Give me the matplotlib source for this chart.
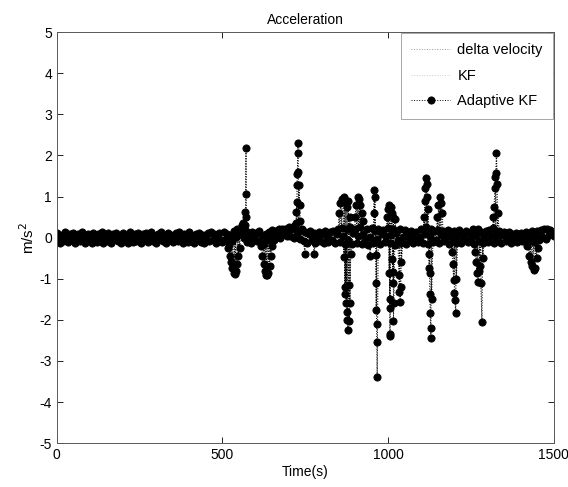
import numpy as np
import matplotlib.pyplot as plt

plt.rcParams['font.family'] = ['Liberation Sans', 'DejaVu Sans']
plt.rcParams['axes.unicode_minus'] = False

# baseline noise, one value every 5 s (0..1500 s)
base_step = 5
base_acc = [
    0.12, -0.03, -0.13, 0.06, -0.08, 0.13, 0.01, -0.11, 0.09, -0.05, 0.11, -0.12, 0.03, 0.08, -0.09, 0.13, -0.02, -0.13, 0.07, 0.10,
    -0.06, -0.12, 0.12, 0.02, -0.10, 0.09, -0.04, 0.13, -0.13, 0.05, -0.07, 0.11, 0.00, -0.12, 0.10, -0.03, 0.12, -0.09, 0.04, -0.13,
    0.11, -0.05, 0.07, -0.12, 0.13, -0.01, -0.10, 0.09, -0.07, 0.12, 0.03, -0.13, 0.08, -0.04, 0.11, -0.11, 0.02, 0.13, -0.08, 0.05,
    -0.12, 0.10, -0.02, 0.13, -0.09, 0.04, -0.13, 0.12, -0.06, 0.07, -0.11, 0.01, 0.11, -0.08, 0.13, -0.04, -0.12, 0.09, 0.02, -0.10,
    0.13, -0.07, 0.05, -0.13, 0.10, -0.03, 0.12, -0.10, 0.06, -0.12, 0.00, 0.11, -0.09, 0.13, -0.05, 0.08, -0.13, 0.03, 0.12, -0.06,
    -0.11, 0.14, -0.04, 0.10, -0.15, 0.06, -0.08, 0.16, 0.02, 0.20, 0.08, 0.22, 0.12, -0.02, 0.15, -0.10, 0.05, -0.14, 0.13, 0.00,
    0.12, -0.08, 0.15, -0.13, 0.04, -0.16, 0.10, -0.05, 0.14, 0.02, 0.18, -0.06, 0.16, 0.06, 0.20, -0.02, 0.17, 0.08, 0.22, 0.03,
    0.19, 0.05, 0.24, 0.00, 0.21, 0.10, 0.16, -0.04, 0.20, -0.09, 0.13, -0.13, 0.08, 0.15, -0.06, 0.11, -0.12, 0.04, 0.14, -0.09,
    0.10, -0.13, 0.16, 0.02, -0.10, 0.14, -0.05, 0.17, -0.14, 0.08, 0.20, -0.10, 0.24, 0.03, -0.15, 0.22, -0.06, 0.27, -0.16, 0.12,
    0.22, -0.12, 0.05, 0.25, -0.15, 0.10, -0.06, 0.20, -0.18, 0.02, 0.23, -0.12, 0.15, -0.04, 0.20, -0.16, 0.08, 0.18, -0.10, 0.03,
    0.24, -0.14, 0.06, 0.20, -0.17, 0.12, -0.05, 0.22, -0.12, 0.02, 0.18, -0.15, 0.09, -0.03, 0.16, -0.12, 0.05, 0.14, -0.10, 0.01,
    0.20, -0.14, 0.08, 0.25, -0.16, 0.03, 0.22, -0.10, 0.15, -0.05, 0.19, -0.13, 0.06, 0.16, -0.09, 0.02, 0.18, -0.15, 0.10, -0.04,
    0.16, -0.12, 0.04, 0.19, -0.14, 0.08, -0.03, 0.17, -0.11, 0.12, 0.00, 0.20, -0.15, 0.07, 0.22, -0.08, 0.14, -0.13, 0.05, 0.17,
    -0.10, 0.18, 0.03, 0.24, -0.12, 0.09, -0.05, 0.16, -0.13, 0.06, 0.14, -0.09, 0.01, 0.13, -0.12, 0.08, -0.04, 0.12, -0.11, 0.05,
    0.12, -0.08, 0.02, 0.14, -0.12, 0.07, -0.03, 0.15, -0.10, 0.05, 0.16, -0.06, 0.18, 0.02, 0.20, -0.04, 0.21, 0.06, 0.19, 0.10,
    0.04,
]

# spikes and dips (time s, acceleration m/s^2)
event_t = [
    518, 522, 526, 530, 534, 537, 540, 544, 548, 552, 558, 562,
    568, 569, 570, 571, 572,
    616, 620, 624, 628, 632, 635, 638, 642, 646, 650,
    680, 700, 715,
    722, 723, 724, 725, 726, 727, 728, 729, 731, 733, 735,
    749, 776,
    852, 856, 860, 864, 868, 872, 876, 880, 884,
    866, 869, 871, 873, 875, 877, 879, 881, 883, 885, 887,
    900, 904, 908, 912, 916, 920, 924,
    945, 956, 958, 960, 962, 963, 964, 965, 966, 967,
    996, 1000, 1004, 1008, 1012, 1016, 1020,
    1003, 1004.5, 1005, 1006, 1007, 1013, 1014, 1015, 1016, 1017,
    1032, 1034, 1036, 1038, 1040,
    1108, 1110, 1112, 1114, 1116, 1118, 1120,
    1122, 1124, 1125, 1126, 1127, 1128, 1129, 1131,
    1148, 1152, 1156, 1160, 1164,
    1192, 1195, 1198, 1200, 1202, 1204, 1206,
    1262, 1265, 1268, 1271, 1274, 1277, 1280, 1283, 1286,
    1318, 1320, 1322, 1324, 1325, 1327, 1329, 1331,
    1420, 1425, 1430, 1435, 1440, 1444, 1448, 1452,
]
event_acc = [
    -0.25, -0.45, -0.60, -0.75, -0.85, -0.88, -0.80, -0.65, -0.45, -0.25, 0.30, 0.35,
    0.30, 0.63, 1.07, 2.17, 0.50,
    -0.20, -0.45, -0.65, -0.80, -0.90, -0.92, -0.85, -0.70, -0.45, -0.20,
    0.22, 0.25, 0.28,
    0.35, 0.63, 0.87, 1.28, 1.56, 2.05, 2.31, 1.60, 1.28, 0.80, 0.40,
    -0.40, -0.40,
    0.60, 0.85, 0.95, 0.90, 1.00, 0.85, 0.75, 0.90, 0.50,
    -0.47, -1.20, -1.36, -1.60, -1.80, -2.00, -2.25, -1.16, -2.02, -1.60, -0.40,
    0.50, 0.80, 1.00, 0.95, 0.80, 0.60, 0.40,
    -0.45, 0.60, 1.16, 0.99, -0.43, -1.11, -1.76, -2.10, -2.54, -3.39,
    0.50, 0.70, 0.79, 0.75, 0.60, 0.50, 0.45,
    -0.85, -1.72, -2.40, -2.35, -1.50, -0.51, -0.83, -1.11, -2.02, -1.60,
    -0.90, -1.32, -1.56, -1.20, -0.60,
    0.50, 0.90, 1.20, 1.44, 1.30, 1.00, 0.70,
    -0.39, -0.75, -0.87, -1.36, -1.84, -2.21, -2.45, -1.50,
    0.50, 0.80, 0.99, 0.85, 0.60,
    -0.35, -0.63, -1.03, -1.35, -1.52, -1.84, -1.00,
    -0.35, -0.60, -0.87, -1.07, -0.80, -0.70, -1.11, -2.04, -0.50,
    0.51, 0.75, 1.20, 1.48, 1.57, 2.05, 1.30, 0.60,
    -0.20, -0.45, -0.60, -0.70, -0.79, -0.75, -0.50, -0.25,
]

x_ticks = [0, 500, 1000, 1500]
y_ticks = [-5, -4, -3, -2, -1, 0, 1, 2, 3, 4, 5]

base_t = np.arange(len(base_acc)) * base_step
t = np.concatenate([base_t, event_t])
acc = np.concatenate([base_acc, event_acc])
order = np.argsort(t, kind='stable')
t, acc = t[order], acc[order]

fig = plt.figure(figsize=(5.68, 4.87), dpi=100)
ax = fig.add_axes([0.100, 0.090, 0.875, 0.844])

ax.plot(t, acc, color='0.6', ls=':', lw=0.7, label='delta velocity')
ax.plot(t, acc, color='0.8', ls=':', lw=0.7, label='KF')
ax.plot(t, acc, color='black', ls=':', lw=0.7, marker='o', ms=5.2,
        mec='black', mew=0.6, mfc='black', label='Adaptive KF')

ax.set_xlim(0, 1500)
ax.set_ylim(-5, 5)
ax.set_xticks(x_ticks)
ax.set_yticks(y_ticks)
ax.tick_params(direction='in', top=True, right=True, length=4, width=0.6,
               labelsize=10, colors='black')
for s in ax.spines.values():
    s.set_linewidth(0.7)
    s.set_color('0.35')

ax.set_title('Acceleration', fontsize=10, pad=6)
ax.set_xlabel('Time(s)', fontsize=10, labelpad=2)
ax.set_ylabel('m/s$^2$', fontsize=11, labelpad=2)

leg = ax.legend(loc='upper right', fontsize=10.5, handlelength=2.7,
                handletextpad=0.5, labelspacing=0.8, borderpad=0.7,
                borderaxespad=0.05, fancybox=False, framealpha=1,
                edgecolor='0.6')
leg.get_frame().set_linewidth(0.6)

fig.savefig('out.png', dpi=100)
